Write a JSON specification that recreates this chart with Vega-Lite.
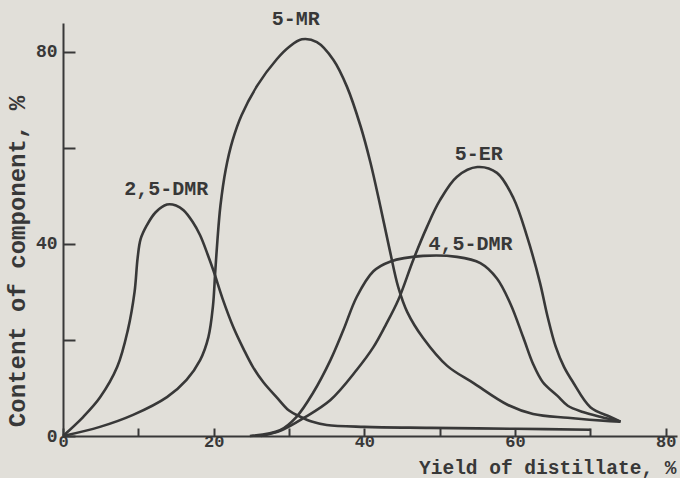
{
  "$schema": "https://vega.github.io/schema/vega-lite/v6.json",
  "width": 614,
  "height": 413,
  "autosize": {"type": "none"},
  "padding": {"left": 63, "top": 23, "right": 3, "bottom": 42},
  "background": "#e1dfd9",
  "config": {
    "view": {"stroke": null},
    "font": "Liberation Mono",
    "axis": {"domainColor": "#383838", "tickColor": "#383838", "labelColor": "#383838", "titleColor": "#383838", "domainWidth": 2, "tickWidth": 2, "grid": false, "labelFont": "Liberation Mono", "titleFont": "Liberation Mono", "labelFontWeight": "bold", "titleFontWeight": "bold"}
  },
  "datasets": {
    "curves": [
      {"series": "2,5-DMR", "x": 0, "y": 0},
      {"series": "2,5-DMR", "x": 2.7, "y": 4},
      {"series": "2,5-DMR", "x": 4.9, "y": 8},
      {"series": "2,5-DMR", "x": 7.2, "y": 14.4},
      {"series": "2,5-DMR", "x": 8.6, "y": 22},
      {"series": "2,5-DMR", "x": 9.5, "y": 30},
      {"series": "2,5-DMR", "x": 9.9, "y": 37},
      {"series": "2,5-DMR", "x": 10.3, "y": 41},
      {"series": "2,5-DMR", "x": 11.1, "y": 43.8},
      {"series": "2,5-DMR", "x": 12.3, "y": 46.6},
      {"series": "2,5-DMR", "x": 13.8, "y": 48.2},
      {"series": "2,5-DMR", "x": 15, "y": 48},
      {"series": "2,5-DMR", "x": 16, "y": 47},
      {"series": "2,5-DMR", "x": 17.2, "y": 44.6},
      {"series": "2,5-DMR", "x": 18.2, "y": 41.8},
      {"series": "2,5-DMR", "x": 19.2, "y": 37.8},
      {"series": "2,5-DMR", "x": 20, "y": 34.3},
      {"series": "2,5-DMR", "x": 21.2, "y": 28.5},
      {"series": "2,5-DMR", "x": 22.6, "y": 22.7},
      {"series": "2,5-DMR", "x": 24, "y": 18},
      {"series": "2,5-DMR", "x": 25.2, "y": 14.4},
      {"series": "2,5-DMR", "x": 26.6, "y": 11.2},
      {"series": "2,5-DMR", "x": 28.4, "y": 8},
      {"series": "2,5-DMR", "x": 30, "y": 5.3},
      {"series": "2,5-DMR", "x": 31.5, "y": 4},
      {"series": "2,5-DMR", "x": 33, "y": 3},
      {"series": "2,5-DMR", "x": 35, "y": 2.3},
      {"series": "2,5-DMR", "x": 40, "y": 1.9},
      {"series": "2,5-DMR", "x": 48.7, "y": 1.7},
      {"series": "2,5-DMR", "x": 60, "y": 1.5},
      {"series": "2,5-DMR", "x": 70, "y": 1.3},
      {"series": "5-MR", "x": 0, "y": 0},
      {"series": "5-MR", "x": 4.9, "y": 1.9},
      {"series": "5-MR", "x": 9.3, "y": 4.4},
      {"series": "5-MR", "x": 13.8, "y": 8.1},
      {"series": "5-MR", "x": 16.4, "y": 11.7},
      {"series": "5-MR", "x": 18.2, "y": 15.8},
      {"series": "5-MR", "x": 19.3, "y": 20.6},
      {"series": "5-MR", "x": 19.9, "y": 27},
      {"series": "5-MR", "x": 20.2, "y": 34},
      {"series": "5-MR", "x": 20.5, "y": 40.8},
      {"series": "5-MR", "x": 20.9, "y": 48},
      {"series": "5-MR", "x": 21.6, "y": 55.5},
      {"series": "5-MR", "x": 22.5, "y": 61.5},
      {"series": "5-MR", "x": 23.7, "y": 66.8},
      {"series": "5-MR", "x": 25.8, "y": 73},
      {"series": "5-MR", "x": 28.4, "y": 78.5},
      {"series": "5-MR", "x": 30, "y": 81},
      {"series": "5-MR", "x": 31.7, "y": 82.6},
      {"series": "5-MR", "x": 33.7, "y": 82},
      {"series": "5-MR", "x": 35.9, "y": 78.3},
      {"series": "5-MR", "x": 37.7, "y": 72.7},
      {"series": "5-MR", "x": 39.5, "y": 64.5},
      {"series": "5-MR", "x": 40.8, "y": 57},
      {"series": "5-MR", "x": 42.1, "y": 48},
      {"series": "5-MR", "x": 43.4, "y": 38.5},
      {"series": "5-MR", "x": 44.5, "y": 31},
      {"series": "5-MR", "x": 45.7, "y": 25.8},
      {"series": "5-MR", "x": 47.8, "y": 20.4},
      {"series": "5-MR", "x": 51, "y": 14.6},
      {"series": "5-MR", "x": 54.5, "y": 11},
      {"series": "5-MR", "x": 59, "y": 6.5},
      {"series": "5-MR", "x": 62.4, "y": 4.6},
      {"series": "5-MR", "x": 67, "y": 3.8},
      {"series": "5-MR", "x": 72.6, "y": 3.1},
      {"series": "5-MR", "x": 74, "y": 3},
      {"series": "5-ER", "x": 26.3, "y": 0},
      {"series": "5-ER", "x": 29, "y": 1.2},
      {"series": "5-ER", "x": 31.9, "y": 3.7},
      {"series": "5-ER", "x": 35.5, "y": 7.5},
      {"series": "5-ER", "x": 39, "y": 13.8},
      {"series": "5-ER", "x": 41.2, "y": 18.5},
      {"series": "5-ER", "x": 42.8, "y": 23},
      {"series": "5-ER", "x": 44.5, "y": 28.3},
      {"series": "5-ER", "x": 46.5, "y": 36.7},
      {"series": "5-ER", "x": 48.3, "y": 43.5},
      {"series": "5-ER", "x": 50, "y": 49},
      {"series": "5-ER", "x": 52.3, "y": 54},
      {"series": "5-ER", "x": 55, "y": 56},
      {"series": "5-ER", "x": 57.6, "y": 54.8},
      {"series": "5-ER", "x": 59.8, "y": 49.5},
      {"series": "5-ER", "x": 61.6, "y": 41.5},
      {"series": "5-ER", "x": 63.3, "y": 32},
      {"series": "5-ER", "x": 64.3, "y": 25},
      {"series": "5-ER", "x": 65.4, "y": 18.6},
      {"series": "5-ER", "x": 66.5, "y": 14.4},
      {"series": "5-ER", "x": 67.7, "y": 11.2},
      {"series": "5-ER", "x": 70, "y": 6},
      {"series": "5-ER", "x": 72.6, "y": 4},
      {"series": "5-ER", "x": 74, "y": 3},
      {"series": "4,5-DMR", "x": 24.8, "y": 0},
      {"series": "4,5-DMR", "x": 28.8, "y": 1.2},
      {"series": "4,5-DMR", "x": 31, "y": 4},
      {"series": "4,5-DMR", "x": 33.2, "y": 9},
      {"series": "4,5-DMR", "x": 35.5, "y": 15.8},
      {"series": "4,5-DMR", "x": 37.2, "y": 22},
      {"series": "4,5-DMR", "x": 39, "y": 29},
      {"series": "4,5-DMR", "x": 41.2, "y": 34.3},
      {"series": "4,5-DMR", "x": 43.4, "y": 36.3},
      {"series": "4,5-DMR", "x": 47.8, "y": 37.5},
      {"series": "4,5-DMR", "x": 52.3, "y": 37.3},
      {"series": "4,5-DMR", "x": 55.4, "y": 36},
      {"series": "4,5-DMR", "x": 57.6, "y": 32.8},
      {"series": "4,5-DMR", "x": 59.4, "y": 27.5},
      {"series": "4,5-DMR", "x": 61.1, "y": 20.5},
      {"series": "4,5-DMR", "x": 62.4, "y": 15},
      {"series": "4,5-DMR", "x": 63.7, "y": 11.2},
      {"series": "4,5-DMR", "x": 65.6, "y": 8.4},
      {"series": "4,5-DMR", "x": 67, "y": 6.3},
      {"series": "4,5-DMR", "x": 69, "y": 5},
      {"series": "4,5-DMR", "x": 71.3, "y": 4},
      {"series": "4,5-DMR", "x": 74, "y": 3}
    ],
    "labels": [
      {"label": "5-MR", "x": 30.9, "y": 86.9},
      {"label": "2,5-DMR", "x": 13.7, "y": 51.5},
      {"label": "5-ER", "x": 55.2, "y": 58.7},
      {"label": "4,5-DMR", "x": 54.1, "y": 40.0}
    ]
  },
  "layer": [
    {
      "data": {"name": "curves"},
      "mark": {"type": "line", "interpolate": "catmull-rom", "color": "#383838", "strokeWidth": 2.6},
      "encoding": {
        "x": {
          "field": "x", "type": "quantitative",
          "scale": {"domain": [0, 81.5], "nice": false, "zero": false},
          "axis": {
            "values": [0, 10, 20, 30, 40, 50, 60, 70, 80],
            "labelExpr": "datum.value % 20 == 0 ? datum.label : ''",
            "tickSize": -8,
            "labelPadding": 5,
            "labelFontSize": 17,
            "labelFlush": false,
            "title": "Yield of distillate, %",
            "titleFontSize": 19.5,
            "titleAnchor": null,
            "titleAlign": "right",
            "titleBaseline": "alphabetic",
            "titleX": 613,
            "titleY": 37
          }
        },
        "y": {
          "field": "y", "type": "quantitative",
          "scale": {"domain": [0, 86], "nice": false, "zero": false},
          "axis": {
            "values": [0, 20, 40, 60, 80],
            "labelExpr": "datum.value % 40 == 0 ? datum.label : ''",
            "tickSize": -12,
            "labelPadding": 18,
            "labelFontSize": 18,
            "labelFlush": false,
            "title": "Content of component, %",
            "titleFontSize": 24,
            "titleAngle": -90,
            "titleAnchor": null,
            "titleAlign": "center",
            "titleBaseline": "middle",
            "titleX": -46,
            "titleY": 238
          }
        },
        "detail": {"field": "series"}
      }
    },
    {
      "data": {"name": "labels"},
      "mark": {"type": "text", "font": "Liberation Mono", "fontWeight": "bold", "fontSize": 20, "color": "#383838", "align": "center", "baseline": "middle"},
      "encoding": {
        "x": {"field": "x", "type": "quantitative"},
        "y": {"field": "y", "type": "quantitative"},
        "text": {"field": "label"}
      }
    }
  ]
}
